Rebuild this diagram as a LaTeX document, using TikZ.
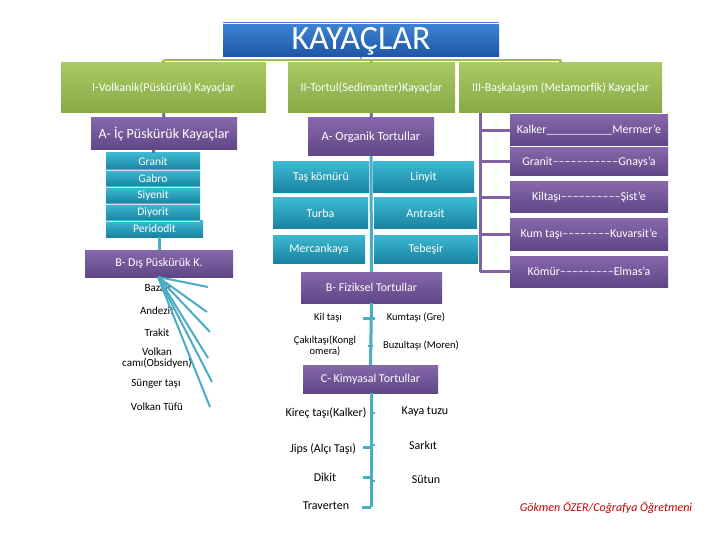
\documentclass[tikz,border=0pt]{standalone}
\usepackage{fontspec}
\setmainfont{Carlito}
\definecolor{grT}{RGB}{170,200,100}
\definecolor{grB}{RGB}{135,170,70}
\definecolor{grL}{RGB}{155,187,89}
\definecolor{puT}{RGB}{134,104,170}
\definecolor{puB}{RGB}{96,70,135}
\definecolor{puL}{RGB}{128,100,162}
\definecolor{tlT}{RGB}{60,185,210}
\definecolor{tlB}{RGB}{25,130,160}
\definecolor{tlL}{RGB}{75,172,198}
\definecolor{blT}{RGB}{60,130,210}
\definecolor{blB}{RGB}{30,85,165}
\definecolor{redtxt}{RGB}{192,0,0}
\tikzset{
  box/.style={inner sep=0pt, text=white, font=\fontsize{12}{14}\selectfont},
  greenbox/.style={box, top color=grT, bottom color=grB, minimum height=50pt},
  purplebox/.style={box, top color=puT, bottom color=puB},
  tealbox/.style={box, top color=tlT, bottom color=tlB},
  lab/.style={inner sep=0pt, font=\fontsize{11}{12}\selectfont, align=center},
  labs/.style={lab, font=\fontsize{10.5}{12}\selectfont},
  labl/.style={lab, font=\fontsize{12}{13}\selectfont},
  tline/.style={draw=tlL, line width=3pt},
  pline/.style={draw=puL, line width=3pt},
  gline/.style={draw=grL, line width=2.5pt},
}
\begin{document}
\begin{tikzpicture}[x=1pt,y=-1pt]
\useasboundingbox[fill=white] (0,0) rectangle (720,540);

% title
\draw[blT, line width=1pt] (223,22.5) -- (499,22.5);
\node[box, top color=blT, bottom color=blB, minimum width=276pt, minimum height=32pt, font=\fontsize{34}{36}\selectfont] (title) at (361,41) {KAYAÇLAR};

% green level
\node[greenbox, minimum width=205pt] (g1) at (163.5,88) {I-Volkanik(Püskürük) Kayaçlar};
\node[greenbox, minimum width=167pt] (g2) at (371.5,88) {II-Tortul(Sedimanter)Kayaçlar};
\node[greenbox, minimum width=203pt] (g3) at (560.5,88) {III-Başkalaşım (Metamorfik) Kayaçlar};
\coordinate (gbar) at (361,60);
\draw[gline] (g1.north |- gbar) -- (g3.north |- gbar);
\draw[gline] (title.south) -- (gbar);
\draw[gline] (g1.north |- gbar) -- (g1.north);
\draw[gline] (g2.north |- gbar) -- (g2.north);
\draw[gline] (g3.north |- gbar) -- (g3.north);

% ---------- I branch
\node[purplebox, minimum width=146pt, minimum height=32pt, font=\fontsize{14}{16}\selectfont] (a1) at (164,134) {A- İç Püskürük Kayaçlar};
\draw[pline] (g1.south) -- (a1.north);
\node[tealbox, minimum width=94pt, minimum height=17pt, font=\fontsize{11.5}{13}\selectfont] (r1) at (153,161.5) {Granit};
\node[tealbox, minimum width=94pt, minimum height=17pt, font=\fontsize{11.5}{13}\selectfont] (r2) at (153,178.5) {Gabro};
\node[tealbox, minimum width=94pt, minimum height=17pt, font=\fontsize{11.5}{13}\selectfont] (r3) at (153,195.5) {Siyenit};
\node[tealbox, minimum width=94pt, minimum height=17pt, font=\fontsize{11.5}{13}\selectfont] (r4) at (153,212.5) {Diyorit};
\node[tealbox, minimum width=97pt, minimum height=16pt, font=\fontsize{11.5}{13}\selectfont] (r5) at (154.5,229) {Peridodit};
\draw[white!70!tlL, line width=0.4pt] (r1.south west) -- (r1.south east) (r2.south west) -- (r2.south east) (r3.south west) -- (r3.south east) (r4.south west) -- (r4.south east);
\draw[pline] (a1.south -| r1.north) -- (r1.north);
\node[purplebox, minimum width=148pt, minimum height=27pt] (bd) at (159,263.5) {B- Dış Püskürük K.};
\draw[tline] (r5.south -| bd.north) -- (bd.north);

\node[lab] (v1) at (158,288) {Bazalt};
\node[lab] (v2) at (157,311) {Andezit};
\node[lab] (v3) at (157,333) {Trakit};
\node[lab] (v4) at (157,358) {Volkan\\[-1pt]camı(Obsidyen)};
\node[lab] (v5) at (156,384) {Sünger taşı};
\node[lab] (v6) at (157,407) {Volkan Tüfü};
\coordinate (fo) at (158,277);
\coordinate (f1) at (208,287);
\coordinate (f2) at (207,312);
\coordinate (f3) at (210,332);
\coordinate (f4) at (208,358);
\coordinate (f5) at (212,382);
\coordinate (f6) at (210,407);
\foreach \f in {f1,f2,f3,f4,f5,f6} \draw[tlL, line width=2pt] (fo) -- (\f);

% ---------- II branch
\node[purplebox, minimum width=126pt, minimum height=38pt, font=\fontsize{12.5}{14}\selectfont] (a2) at (371,137) {A- Organik Tortullar};
\draw[pline] (g2.south) -- (a2.north);
\node[purplebox, minimum width=141pt, minimum height=31pt] (bf) at (371.5,287.5) {B- Fiziksel Tortullar};
\draw[tline] (a2.south) -- (bf.north);
\node[tealbox, minimum width=96pt, minimum height=31pt] (o1) at (321,177.5) {Taş kömürü};
\node[tealbox, minimum width=101pt, minimum height=31pt] (o2) at (423.5,177.5) {Linyit};
\node[tealbox, minimum width=95pt, minimum height=31pt] (o3) at (320.5,213.5) {Turba};
\node[tealbox, minimum width=103pt, minimum height=31pt] (o4) at (425.5,213.5) {Antrasit};
\node[tealbox, minimum width=92pt, minimum height=28pt] (o5) at (319,249) {Mercankaya};
\node[tealbox, minimum width=104pt, minimum height=28pt] (o6) at (426,249) {Tebeşir};

\node[purplebox, minimum width=135pt, minimum height=28pt] (ck) at (370.5,379) {C- Kimyasal Tortullar};
\draw[tline] (bf.south) -- (ck.north);
\node[labs] (p1) at (328,318) {Kil taşı};
\node[labs] (p2) at (416,318) {Kumtaşı (Gre)};
\node[labs] (p3) at (325,346) {Çakıltaşı(Kongl\\[-1pt]omera)};
\node[labs] (p4) at (421,346) {Buzultaşı (Moren)};
\coordinate (q1) at (371,318);
\coordinate (q2) at (371,346);
\draw[tlL, line width=3pt] ([xshift=-8pt]q1) -- ([xshift=4pt]q1);
\draw[tlL, line width=2pt] ([xshift=-3pt]q2) -- ([xshift=2pt]q2);

\coordinate (kend) at (371,507);
\draw[tline] (ck.south -| kend) -- (kend);
\node[labl] (k1) at (326,413) {Kireç taşı(Kalker)};
\node[labl] (k2) at (425,412) {Kaya tuzu};
\node[labl] (k3) at (323,449) {Jips (Alçı Taşı)};
\node[labl] (k4) at (423,445) {Sarkıt};
\node[labl] (k5) at (325,477) {Dikit};
\node[labl] (k6) at (426,480) {Sütun};
\node[labl] (k7) at (326,506) {Traverten};
\coordinate (m1) at (371,413);
\coordinate (m2) at (371,447);
\coordinate (m3) at (371,477);
\coordinate (m4) at (371,507);
\draw[tlL, line width=2pt] (m1) -- ++(4,0);
\draw[tlL, line width=3pt] (m2) -- ++(-8,0);
\draw[tlL, line width=2pt] (m2) ++(0,-2) -- ++(4,0);
\draw[tlL, line width=3pt] (m3) -- ++(-8,0);
\draw[tlL, line width=2pt] (m3) ++(0,4) -- ++(4,0);
\draw[tlL, line width=3pt] (m4) -- ++(-9,0);

% ---------- III branch
\node[purplebox, minimum width=158pt, minimum height=31pt] (m1b) at (589,130.5) {Kalker\_\_\_\_\_\_\_\_\_\_\_Mermer’e};
\node[purplebox, minimum width=158pt, minimum height=28pt] (m2b) at (589,162) {Granit–––––––––––Gnays’a};
\node[purplebox, minimum width=158pt, minimum height=31pt] (m3b) at (589,197.5) {Kiltaşı––––––––––Şist’e};
\node[purplebox, minimum width=158pt, minimum height=31pt] (m4b) at (589,234.5) {Kum taşı––––––––Kuvarsit’e};
\node[purplebox, minimum width=158pt, minimum height=31pt] (m5b) at (589,271.5) {Kömür–––––––––Elmas’a};
\coordinate (mv) at (480,112);
\draw[pline] (g3.south -| mv) -- (mv |- m5b.west);
\foreach \b in {m1b,m2b,m3b,m4b,m5b} \draw[pline] (mv |- \b.west) -- (\b.west);

% footer
\node[inner sep=0pt, text=redtxt, font=\fontsize{12}{14}\selectfont\itshape] (foot) at (606,508) {Gökmen ÖZER/Coğrafya Öğretmeni};
\end{tikzpicture}
\end{document}
